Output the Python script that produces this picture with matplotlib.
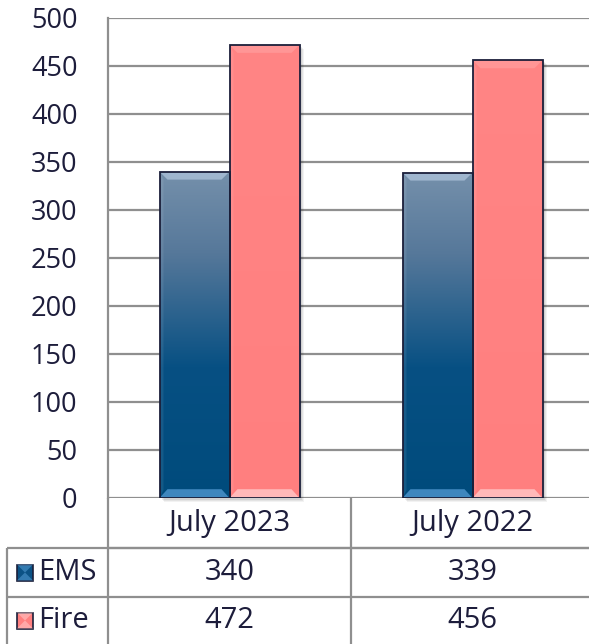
import numpy as np
import matplotlib
matplotlib.use("Agg")
import matplotlib.pyplot as plt
from matplotlib.patches import Rectangle, Polygon
from matplotlib.colors import LinearSegmentedColormap

plt.rcParams["font.family"] = ["Open Sans", "DejaVu Sans"]

# --- data ---
categories = ["July 2023", "July 2022"]
series = ["EMS", "Fire"]
ems = [340, 339]
fire = [472, 456]
yticks = list(range(0, 501, 50))

TXT = "#1d1d3b"
GRID = "#8f8f8f"
EDGE = "#1b1f3a"

W, H = 589, 644
fig = plt.figure(figsize=(W / 100, H / 100), dpi=100)
ax = fig.add_axes([108 / W, (H - 498) / H, (594 - 108) / W, 480 / H])
ax.set_xlim(-0.5, 1.5)
ax.set_ylim(0, 500)

PX_X = 1 / 243.0          # data x per pixel
PX_Y = 500 / 480.0        # data y per pixel

ems_cmap = LinearSegmentedColormap.from_list(
    "ems", [(0, "#7590ab"), (0.25, "#56789a"), (0.6, "#075083"), (1, "#004b7c")])
fire_cmap = LinearSegmentedColormap.from_list(
    "fire", [(0, "#ff8585"), (1, "#ff7f7f")])

bw = 70 * PX_X
x = np.arange(len(categories))


def bevel(ax, xl, xr, top, col_top, col_bot, a_top, a_bot):
    dx, dy = 8 * PX_X, 8 * PX_Y
    ax.add_patch(Polygon([(xl, top), (xr, top), (xr - dx, top - dy), (xl + dx, top - dy)],
                         closed=True, facecolor=col_top, alpha=a_top, lw=0, zorder=3))
    ax.add_patch(Polygon([(xl, 0), (xr, 0), (xr - dx, dy * 1.1), (xl + dx, dy * 1.1)],
                         closed=True, facecolor=col_bot, alpha=a_bot, lw=0, zorder=3))
    ax.add_patch(Polygon([(xl, top), (xl + dx * 0.5, top - dy), (xl + dx * 0.5, dy), (xl, 0)],
                         closed=True, facecolor="white", alpha=0.08, lw=0, zorder=3))


for vals, off, cmap, ct, cb, at, ab in [
        (ems, -bw / 2, ems_cmap, "#c5d8ee", "#4f97cf", 0.55, 0.8),
        (fire, bw / 2, fire_cmap, "#ffc0c0", "#ffc4c4", 0.3, 0.85)]:
    bars = ax.bar(x + off, vals, width=bw, facecolor="none", edgecolor=EDGE,
                  linewidth=1.3, zorder=4)
    for b in bars:
        xl, w, h = b.get_x(), b.get_width(), b.get_height()
        # soft shadow
        for k, a in [(4, 0.05), (3, 0.06), (2, 0.07)]:
            ax.add_patch(Rectangle((xl + k * PX_X, -k * PX_Y), w, h, facecolor="black",
                                   alpha=a, lw=0, zorder=1.5, clip_on=False))
        grad = np.linspace(0, 1, 256).reshape(-1, 1)
        im = ax.imshow(grad, cmap=cmap, aspect="auto", extent=(xl, xl + w, 0, h),
                       origin="upper", zorder=2)
        im.set_clip_path(b)
        bevel(ax, xl, xl + w, h, ct, cb, at, ab)

ax.set_xlim(-0.5, 1.5)
ax.set_ylim(0, 500)

ax.set_yticks(yticks)
ax.set_yticklabels([str(t) for t in yticks], fontsize=19.5, color=TXT)
ax.set_xticks([])
ax.tick_params(axis="y", length=0, pad=22)
ax.grid(axis="y", color=GRID, linewidth=1.6, zorder=0)
ax.set_axisbelow(True)
for s in ["top", "right", "bottom"]:
    ax.spines[s].set_visible(False)
ax.spines["left"].set_color(GRID)
ax.spines["left"].set_linewidth(1.6)

# --- data table below the plot ---
tr = ax.get_xaxis_transform()
r0, r1, r2, r3 = 0.0, -50 / 480, -99 / 480, -150 / 480
xleft = -0.5 - 101 * PX_X
lk = dict(color=GRID, linewidth=1.6, transform=tr, clip_on=False, solid_capstyle="butt")
ax.plot([-0.5, 1.6], [r1, r1], **lk)
ax.plot([xleft, 1.6], [r1, r1], **lk)
ax.plot([xleft, 1.6], [r2, r2], **lk)
ax.plot([xleft, xleft], [r1, r3], **lk)
ax.plot([-0.5, -0.5], [r0, r3], **lk)
ax.plot([0.5, 0.5], [r0, r3], **lk)

FS = 21
for i, c in enumerate(categories):
    ax.text(x[i], (r0 + r1) / 2, c, transform=tr, ha="center", va="center",
            fontsize=FS, color=TXT, clip_on=False)
    ax.text(x[i], (r1 + r2) / 2, str(ems[i]), transform=tr, ha="center", va="center",
            fontsize=FS, color=TXT, clip_on=False)
    ax.text(x[i], (r2 + r3) / 2 + 2 / 480, str(fire[i]), transform=tr, ha="center",
            va="center", fontsize=FS, color=TXT, clip_on=False)

# legend keys inside table
keys = [("#0b5285", "#4f97cf"), ("#ff8080", "#ffc4c4")]
for j, (name, (base, light)) in enumerate(zip(series, keys)):
    yc = (r1 + r2) / 2 if j == 0 else (r2 + r3) / 2 + 2 / 480
    kx = -0.5 - 91 * PX_X
    ks = 16 * PX_X
    kh = 16 / 480
    ax.add_patch(Rectangle((kx, yc - kh / 2), ks, kh, transform=tr, facecolor=base,
                           edgecolor=EDGE, lw=1.2, clip_on=False, zorder=5))
    for (yy, yt) in [(yc - kh / 2, yc), (yc + kh / 2, yc)]:
        ax.add_patch(Polygon([(kx, yy), (kx + ks, yy), (kx + ks / 2, yt)], closed=True,
                             transform=tr, facecolor=light, alpha=0.6, lw=0,
                             clip_on=False, zorder=5))
    ax.text(kx + ks + 5 * PX_X, yc, name, transform=tr, ha="left", va="center",
            fontsize=FS, color=TXT, clip_on=False)

fig.savefig("out.png", dpi=100, facecolor="white")
